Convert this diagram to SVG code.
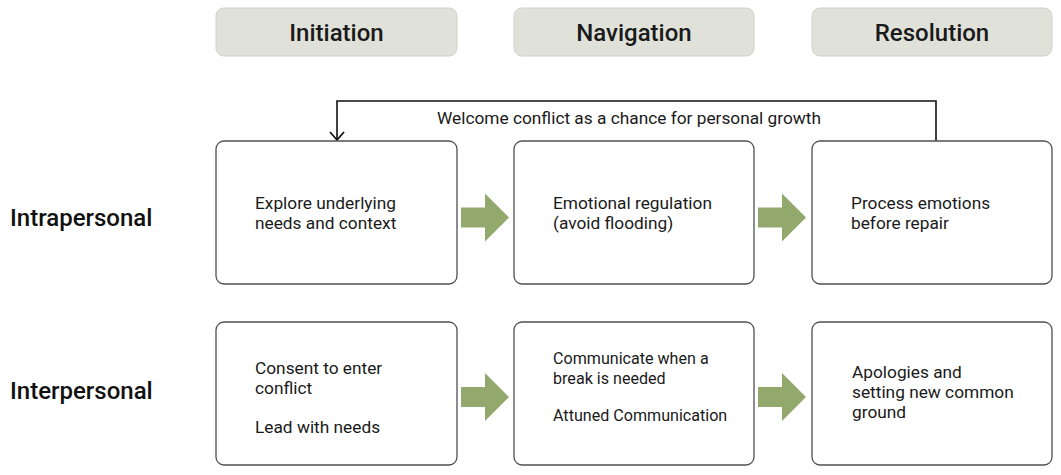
<svg xmlns="http://www.w3.org/2000/svg" width="1061" height="475" viewBox="0 0 1061 475">
<defs>
<style>
.hdr rect{fill:#e0e2da;stroke:#d0d2ca;stroke-width:1}
.hdr text{font-family:Roboto,"Liberation Sans",sans-serif;font-size:24px;font-weight:500;fill:#1a1a1a;text-anchor:middle}
.box rect{fill:#fff;stroke:#505050;stroke-width:1.3}
.box text,.lbl{font-family:Roboto,"Liberation Sans",sans-serif;font-size:17.3px;fill:#1a1a1a}
.box text.sm{font-size:16.1px}
.row{font-family:Roboto,"Liberation Sans",sans-serif;font-size:24px;font-weight:500;fill:#111}
.garrow{fill:#93a86c}
</style>
<marker id="ah" markerWidth="12" markerHeight="16" refX="9" refY="8" orient="auto" markerUnits="userSpaceOnUse" viewBox="0 0 12 16">
<path d="M1,1 L9,8 L1,15" fill="none" stroke="#111" stroke-width="1.8"/>
</marker>
</defs>
<rect width="1061" height="475" fill="#fff"/>

<g id="hdr-initiation" class="hdr"><rect x="216" y="8" width="241" height="48" rx="8"/><text x="336.5" y="40.5">Initiation</text></g>
<g id="hdr-navigation" class="hdr"><rect x="514" y="8" width="240" height="48" rx="8"/><text x="634" y="40.5">Navigation</text></g>
<g id="hdr-resolution" class="hdr"><rect x="812" y="8" width="240" height="48" rx="8"/><text x="932" y="40.5">Resolution</text></g>

<g id="row-intra"><text class="row" x="10" y="226">Intrapersonal</text></g>
<g id="row-inter"><text class="row" x="10" y="399">Interpersonal</text></g>

<g id="connectors">
<path d="M936,141 V101 H337 V140" fill="none" stroke="#111" stroke-width="1.6" marker-end="url(#ah)"/>
<text class="lbl" x="629" y="124" text-anchor="middle">Welcome conflict as a chance for personal growth</text>
<path class="garrow" d="M461,207.5 H485 V193.5 L509,217.5 L485,241.5 V227.5 H461 Z"/>
<path class="garrow" d="M758,207.5 H782 V193.5 L806,217.5 L782,241.5 V227.5 H758 Z"/>
<path class="garrow" d="M461,387 H485 V373 L509,397 L485,421 V407 H461 Z"/>
<path class="garrow" d="M758,387 H782 V373 L806,397 L782,421 V407 H758 Z"/>
</g>

<g id="n-explore" class="box"><rect x="216" y="141" width="241" height="143" rx="8"/><text x="255" y="209">Explore underlying</text><text x="255" y="229">needs and context</text></g>
<g id="n-regulation" class="box"><rect x="514" y="141" width="240" height="143" rx="8"/><text x="553" y="209">Emotional regulation</text><text x="553" y="229">(avoid flooding)</text></g>
<g id="n-process" class="box"><rect x="812" y="141" width="240" height="143" rx="8"/><text x="851" y="209">Process emotions</text><text x="851" y="229">before repair</text></g>

<g id="n-consent" class="box"><rect x="216" y="322" width="241" height="143" rx="8"/><text x="255" y="374">Consent to enter</text><text x="255" y="394">conflict</text><text x="255" y="433">Lead with needs</text></g>
<g id="n-communicate" class="box"><rect x="514" y="322" width="240" height="143" rx="8"/><text class="sm" x="553" y="364">Communicate when a</text><text class="sm" x="553" y="384">break is needed</text><text class="sm" x="553" y="421">Attuned Communication</text></g>
<g id="n-apologies" class="box"><rect x="812" y="322" width="240" height="143" rx="8"/><text x="852" y="378">Apologies and</text><text x="852" y="398">setting new common</text><text x="852" y="418">ground</text></g>
</svg>
